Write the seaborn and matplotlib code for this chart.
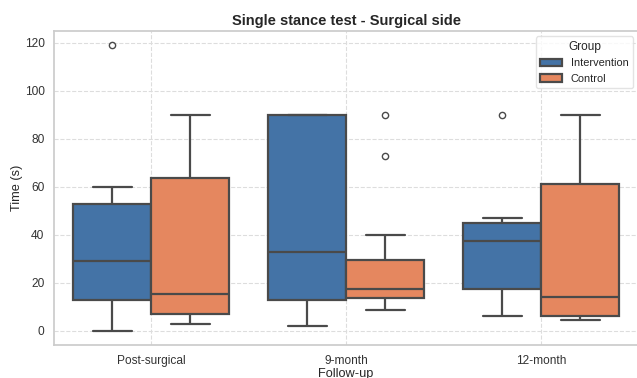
import pandas as pd
import matplotlib.pyplot as plt
import seaborn as sns

# values (seconds)
post_intervention = [0, 10, 13, 20, 29, 45, 53, 60, 119]
post_control = [3, 5, 7, 10, 15.5, 30, 63.5, 75, 90]
m9_intervention = [2, 8, 13, 20, 33, 60, 90, 90, 90]
m9_control = [8.5, 10, 12, 13.5, 15, 16, 17.5, 20, 25, 29.5, 40, 73, 90]
m12_intervention = [6, 12, 17.5, 30, 37.5, 40, 45, 47, 90]
m12_control = [4.5, 5, 6, 10, 14, 30, 61, 80, 90]

followup_order = ["Post-surgical", "9-month", "12-month"]
group_order = ["Intervention", "Control"]
palette = {"Intervention": "#4473a6", "Control": "#e5875f"}

groups = [
    ("Post-surgical", "Intervention", post_intervention),
    ("Post-surgical", "Control", post_control),
    ("9-month", "Intervention", m9_intervention),
    ("9-month", "Control", m9_control),
    ("12-month", "Intervention", m12_intervention),
    ("12-month", "Control", m12_control),
]
rows = []
for fu, grp, vals in groups:
    for v in vals:
        rows.append({"Follow-up": fu, "Group": grp, "Time (s)": v})
df = pd.DataFrame(rows)

sns.set_theme(style="whitegrid")
plt.rcParams["font.family"] = ["Liberation Sans", "DejaVu Sans"]

fig = plt.figure(figsize=(6.37, 3.78), dpi=100)
ax = fig.add_axes([53.5 / 637, 33 / 378, 585 / 637, 314 / 378])

sns.boxplot(
    data=df,
    x="Follow-up",
    y="Time (s)",
    hue="Group",
    order=followup_order,
    hue_order=group_order,
    palette=palette,
    saturation=1,
    linewidth=1.6,
    linecolor="#4a4a4a",
    flierprops={"marker": "o", "markersize": 4.5, "markeredgecolor": "#4a4a4a",
                "markerfacecolor": "none"},
    ax=ax,
)

ax.grid(True, linestyle="--", color="#dddddd", linewidth=0.8)
ax.set_axisbelow(True)
for s in ax.spines.values():
    s.set_color("#cccccc")

ax.set_yticks([0, 20, 40, 60, 80, 100, 120])
ax.tick_params(axis="x", labelsize=8.6, colors="#333333", pad=1)
ax.tick_params(axis="y", labelsize=8.6, colors="#333333", pad=0.5)
ax.set_title("Single stance test - Surgical side", fontsize=10.5, fontweight="bold", pad=4)
ax.set_xlabel("Follow-up", fontsize=9.2, labelpad=1)
ax.set_ylabel("Time (s)", fontsize=9.2, labelpad=1.5)

leg = ax.legend(title="Group", loc="upper right", fontsize=7.9, title_fontsize=8.6,
                frameon=True, borderaxespad=0.5)
leg.get_frame().set_edgecolor("#dddddd")

fig.savefig("out.png", dpi=100)
